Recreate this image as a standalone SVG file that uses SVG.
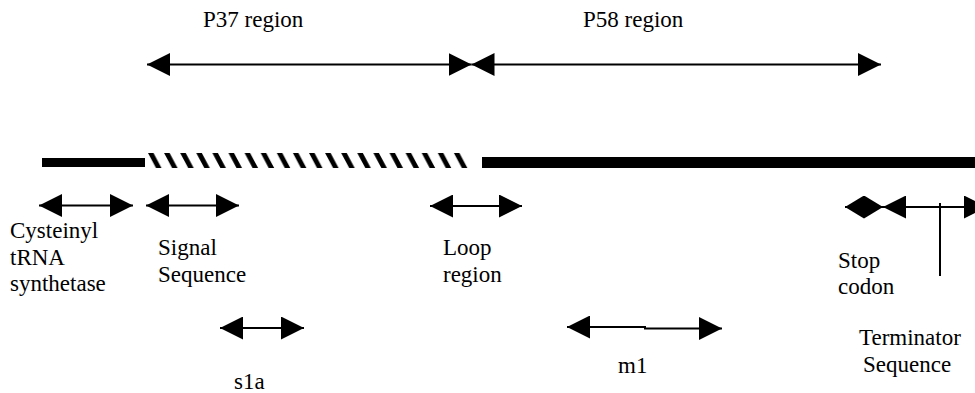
<svg xmlns="http://www.w3.org/2000/svg" width="975" height="393" viewBox="0 0 975 393">
<style>
text{font-family:"Liberation Serif","Times New Roman",serif;font-size:23px;fill:#000}
.c{stroke:#000;stroke-width:2;fill:none}
</style>
<defs>
<marker id="h" markerUnits="userSpaceOnUse" markerWidth="23" markerHeight="23" refX="23" refY="11.5" orient="auto-start-reverse" viewBox="0 0 23 23">
<path d="M0,0 L23,11.5 L0,23 Z" fill="#000"/>
</marker>
<marker id="hs" markerUnits="userSpaceOnUse" markerWidth="19" markerHeight="23" refX="19" refY="11.5" orient="auto-start-reverse" viewBox="0 0 19 23">
<path d="M0,0 L19,11.5 L0,23 Z" fill="#000"/>
</marker>
<pattern id="hatch" patternUnits="userSpaceOnUse" x="148" y="153" width="16.1" height="15">
<polygon points="0,0 5.5,0 13.5,15 8,15" fill="#000"/>
</pattern>
</defs>
<g id="gene-bar">
<rect x="42" y="158" width="103" height="9" fill="#000"/>
<rect x="148" y="153" width="322" height="15" fill="url(#hatch)"/>
<rect x="482" y="157" width="493" height="11" fill="#000"/>
</g>
<g id="connectors">
<line class="c" x1="147" y1="64.5" x2="471.5" y2="64.5" marker-start="url(#h)" marker-end="url(#h)"/>
<line class="c" x1="471.5" y1="64.5" x2="881" y2="64.5" marker-start="url(#h)" marker-end="url(#h)"/>
<line class="c" x1="39" y1="205.5" x2="133" y2="205.5" marker-start="url(#h)" marker-end="url(#h)"/>
<line class="c" x1="146" y1="205.5" x2="239" y2="205.5" marker-start="url(#h)" marker-end="url(#h)"/>
<line class="c" x1="430" y1="206" x2="522" y2="206" marker-start="url(#h)" marker-end="url(#h)"/>
<line class="c" x1="845" y1="207" x2="883" y2="207" marker-start="url(#hs)" marker-end="url(#hs)"/>
<line class="c" x1="883" y1="207" x2="987" y2="207" marker-start="url(#h)" marker-end="url(#h)"/>
<line class="c" x1="940" y1="203" x2="940" y2="276"/>
<line class="c" x1="220" y1="328" x2="304" y2="328" marker-start="url(#h)" marker-end="url(#h)"/>
<polyline class="c" points="567,327 645,327 645,328.5 722,328.5" marker-start="url(#h)" marker-end="url(#h)"/>
</g>
<g id="p37"><text x="203" y="27">P37 region</text></g>
<g id="p58"><text x="583" y="27">P58 region</text></g>
<g id="cysteinyl"><text x="10" y="238">Cysteinyl</text><text x="10" y="264.5">tRNA</text><text x="10" y="291">synthetase</text></g>
<g id="signal"><text x="158" y="255">Signal</text><text x="158" y="282">Sequence</text></g>
<g id="loop"><text x="443" y="255">Loop</text><text x="443" y="282">region</text></g>
<g id="stop"><text x="838" y="268">Stop</text><text x="838" y="294">codon</text></g>
<g id="terminator"><text x="859" y="345">Terminator</text><text x="863" y="372">Sequence</text></g>
<g id="s1a"><text x="234" y="389">s1a</text></g>
<g id="m1"><text x="618" y="373">m1</text></g>
</svg>
